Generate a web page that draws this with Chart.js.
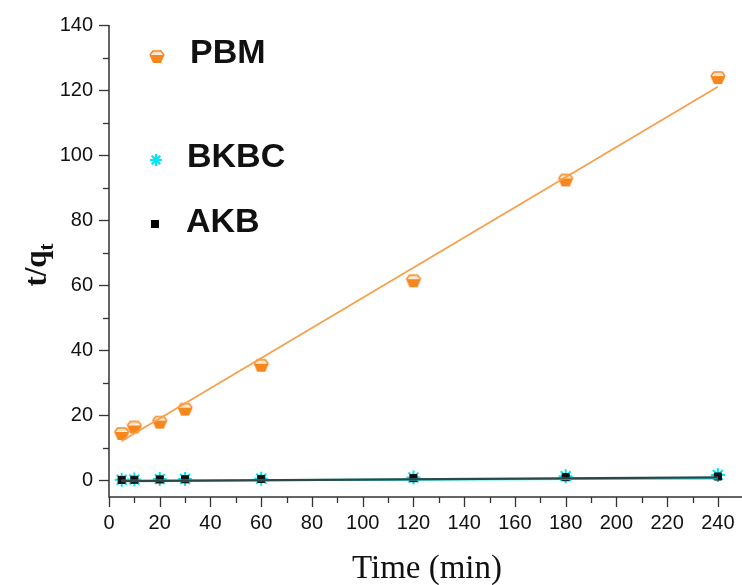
<!DOCTYPE html>
<html>
<head>
<meta charset="utf-8">
<script src="https://cdn.jsdelivr.net/npm/chart.js@4.4.1/dist/chart.umd.min.js"></script>
<style>
html,body{margin:0;padding:0;background:#fff;}
#wrap{width:742px;height:585px;position:relative;}
</style>
</head>
<body>
<div id="wrap"><canvas id="c" width="742" height="585"></canvas></div>
<script>
// ---- data ----
const time = [5, 10, 20, 30, 60, 120, 180, 240];
const pbm  = [14.5, 16.5, 18, 22, 35.5, 61.5, 92.5, 124];
const bkbc = [0.1, 0.15, 0.3, 0.35, 0.45, 0.8, 1.2, 1.6];
const akb  = [0.05, 0.1, 0.2, 0.25, 0.35, 0.6, 0.9, 1.1];
const fitX = [5, 240];
const pbmFit  = [12, 121];
const bkbcFit = [-0.2, 0.55];
const akbFit  = [-0.3, 0.85];
const xTickLabels = [0,20,40,60,80,100,120,140,160,180,200,220,240];
const yTickLabels = [0,20,40,60,80,100,120,140];
const seriesNames = ['PBM', 'BKBC', 'AKB'];

const ORANGE = '#f7861c', ORANGE_LINE = '#f7a04a', CYAN = '#00e6f0', DARK = '#2e4848', AXIS = '#333333';

function pts(xs, ys){ return xs.map((x,i)=>({x:x, y:ys[i]})); }

// custom "bowl" marker for PBM
function makeBowl(){
  const c = document.createElement('canvas');
  c.width = 18; c.height = 16;
  const g = c.getContext('2d');
  g.fillStyle = ORANGE;
  g.beginPath();
  g.moveTo(1.5, 7); g.lineTo(16.5, 7); g.lineTo(13, 15); g.lineTo(5, 15); g.closePath();
  g.fill();
  g.strokeStyle = ORANGE; g.lineWidth = 1.6;
  g.beginPath();
  g.moveTo(2, 7); g.lineTo(5, 3); g.lineTo(13, 3); g.lineTo(16, 7);
  g.stroke();
  g.fillStyle = '#ffe3c4';
  g.fillRect(5, 4, 8, 2.5);
  return c;
}
const bowl = makeBowl();

const axisDeco = {
  id: 'axisDeco',
  afterDraw(chart){
    const {ctx, chartArea:a, scales:{x, y}} = chart;
    ctx.save();
    ctx.strokeStyle = AXIS; ctx.lineWidth = 1.5;
    // axes
    ctx.beginPath();
    ctx.moveTo(a.left, y.getPixelForValue(140)); ctx.lineTo(a.left, a.bottom);
    ctx.lineTo(a.right, a.bottom);
    ctx.stroke();
    ctx.lineWidth = 1.3;
    // y ticks
    for (let v = 0; v <= 140; v += 10){
      const py = Math.round(y.getPixelForValue(v)) + 0.5;
      const len = (v % 20 === 0) ? 10 : 6;
      ctx.beginPath(); ctx.moveTo(a.left, py); ctx.lineTo(a.left - len, py); ctx.stroke();
    }
    // x ticks
    for (let v = 0; v <= 240; v += 10){
      const px = Math.round(x.getPixelForValue(v)) + 0.5;
      const len = (v % 20 === 0) ? 10 : 6;
      ctx.beginPath(); ctx.moveTo(px, a.bottom); ctx.lineTo(px, a.bottom + len); ctx.stroke();
    }
    // axis titles
    ctx.fillStyle = '#111';
    ctx.font = '33px "Liberation Serif", "Times New Roman", serif';
    ctx.textAlign = 'center'; ctx.textBaseline = 'alphabetic';
    ctx.fillText('Time (min)', 427, 578);
    ctx.translate(46, 265);
    ctx.rotate(-Math.PI/2);
    ctx.font = 'bold 31px "Liberation Serif", serif';
    ctx.textAlign = 'left';
    const w1 = ctx.measureText('t/q').width;
    ctx.font = 'bold 21px "Liberation Serif", serif';
    const w2 = ctx.measureText('t').width;
    const start = -(w1 + w2)/2;
    ctx.font = 'bold 31px "Liberation Serif", serif';
    ctx.fillText('t/q', start, 0);
    ctx.font = 'bold 21px "Liberation Serif", serif';
    ctx.fillText('t', start + w1, 7);
    ctx.restore();

    // legend
    ctx.save();
    const items = [
      {name: seriesNames[0], y: 54},
      {name: seriesNames[1], y: 158},
      {name: seriesNames[2], y: 223}
    ];
    ctx.font = 'bold 34px "Liberation Sans", Arial, sans-serif';
    ctx.fillStyle = '#111'; ctx.textBaseline = 'middle'; ctx.textAlign = 'left';
    ctx.fillText(items[0].name, 190, items[0].y);
    ctx.fillText(items[1].name, 187, items[1].y);
    ctx.fillText(items[2].name, 186, items[2].y);
    ctx.drawImage(bowl, 148, items[0].y - 6);
    // star
    ctx.strokeStyle = CYAN; ctx.lineWidth = 2.2;
    const sx = 156, sy = items[1].y + 2, r = 6;
    ctx.beginPath();
    for (let k = 0; k < 4; k++){
      const ang = k * Math.PI/4;
      ctx.moveTo(sx - r*Math.cos(ang), sy - r*Math.sin(ang));
      ctx.lineTo(sx + r*Math.cos(ang), sy + r*Math.sin(ang));
    }
    ctx.stroke();
    ctx.fillStyle = '#000';
    ctx.fillRect(151, items[2].y - 3, 8, 8);
    ctx.restore();
  }
};

new Chart(document.getElementById('c'), {
  type: 'scatter',
  data: {
    datasets: [
      { label: 'PBM fit', type: 'line', data: pts(fitX, pbmFit), borderColor: ORANGE_LINE, borderWidth: 1.8, pointRadius: 0, fill: false },
      { label: 'AKB fit', type: 'line', data: pts(fitX, akbFit), borderColor: DARK, borderWidth: 2.2, pointRadius: 0, fill: false },
      { label: 'BKBC fit', type: 'line', data: pts(fitX, bkbcFit), borderColor: CYAN, borderWidth: 2.2, pointRadius: 0, fill: false },
      { label: seriesNames[2], data: pts(time, akb), pointStyle: 'rect', pointRadius: 5, backgroundColor: '#111', borderColor: '#111', borderWidth: 1 },
      { label: seriesNames[1], data: pts(time, bkbc), pointStyle: 'star', pointRadius: 7, borderColor: CYAN, backgroundColor: CYAN, borderWidth: 2 },
      { label: seriesNames[0], data: pts(time, pbm), pointStyle: bowl }
    ]
  },
  options: {
    responsive: false,
    animation: false,
    events: [],
    layout: { autoPadding: false, padding: { top: 25, right: 0, left: 0, bottom: 0 } },
    plugins: { legend: { display: false }, tooltip: { enabled: false } },
    scales: {
      x: {
        type: 'linear', min: 0, max: 249.5,
        grid: { display: false, drawTicks: false },
        border: { display: false },
        afterBuildTicks(s){ s.ticks = xTickLabels.map(v => ({value: v})); },
        afterFit(s){ s.height = 88; s.paddingRight = 0; s.paddingLeft = 0; },
        ticks: { padding: 14, color: '#111', font: { family: '"Liberation Sans", Arial, sans-serif', size: 20 }, maxRotation: 0, autoSkip: false }
      },
      y: {
        type: 'linear', min: -5.2, max: 140,
        grid: { display: false, drawTicks: false },
        border: { display: false },
        afterBuildTicks(s){ s.ticks = yTickLabels.map(v => ({value: v})); },
        afterFit(s){ s.width = 109; s.paddingTop = 0; s.paddingBottom = 0; },
        ticks: { padding: 16, color: '#111', font: { family: '"Liberation Sans", Arial, sans-serif', size: 20 } }
      }
    }
  },
  plugins: [axisDeco]
});
</script>
</body>
</html>
